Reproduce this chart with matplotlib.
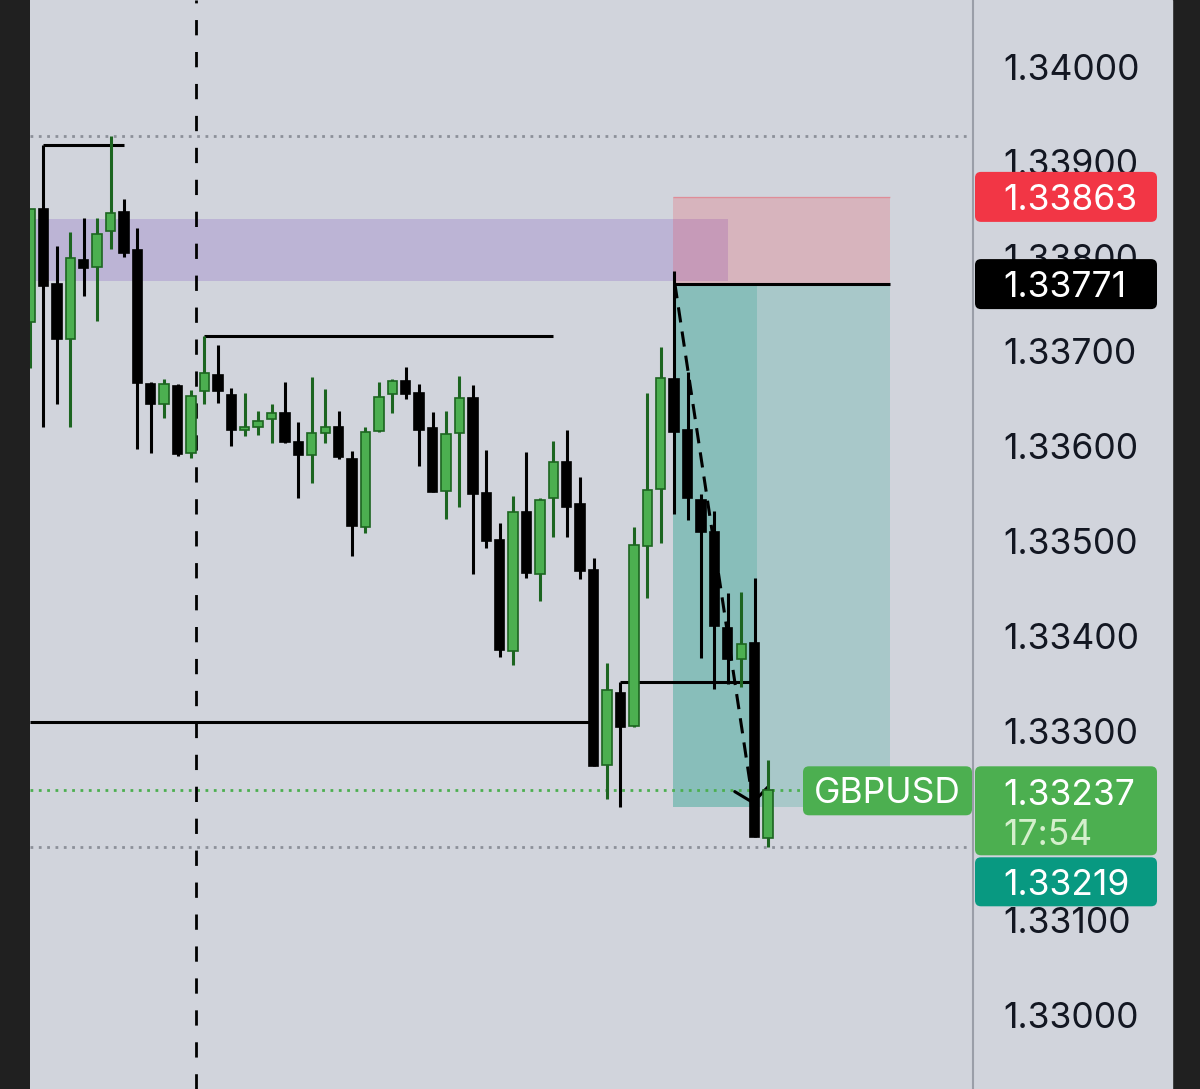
import numpy as np
import matplotlib.pyplot as plt
from matplotlib.patches import Rectangle, FancyBboxPatch

plt.rcParams['font.family'] = ['Inter', 'DejaVu Sans']

# GBPUSD candles, oldest -> newest
opens = [1.33731, 1.33850, 1.33771, 1.33713, 1.33796, 1.33789, 1.33827, 1.33847,
         1.33807, 1.33666, 1.33645, 1.33664, 1.33593, 1.33658, 1.33675, 1.33654,
         1.33617, 1.33620, 1.33629, 1.33635, 1.33604, 1.33591, 1.33614, 1.33620,
         1.33587, 1.33515, 1.33616, 1.33655, 1.33669, 1.33656, 1.33619, 1.33553,
         1.33614, 1.33651, 1.33551, 1.33501, 1.33384, 1.33531, 1.33465, 1.33545,
         1.33583, 1.33539, 1.33469, 1.33264, 1.33340, 1.33305, 1.33495, 1.33555,
         1.33671, 1.33617, 1.33543, 1.33510, 1.33408, 1.33375, 1.33392, 1.33187]
highs = [1.33850, 1.33918, 1.33811, 1.33826, 1.33841, 1.33841, 1.33927, 1.33861,
         1.33830, 1.33668, 1.33671, 1.33666, 1.33659, 1.33716, 1.33707, 1.33661,
         1.33656, 1.33637, 1.33644, 1.33668, 1.33625, 1.33673, 1.33660, 1.33637,
         1.33595, 1.33620, 1.33668, 1.33671, 1.33684, 1.33666, 1.33636, 1.33637,
         1.33674, 1.33665, 1.33596, 1.33519, 1.33547, 1.33594, 1.33545, 1.33605,
         1.33617, 1.33568, 1.33482, 1.33371, 1.33351, 1.33515, 1.33656, 1.33705,
         1.33785, 1.33678, 1.33550, 1.33532, 1.33445, 1.33446, 1.33461, 1.33269]
lows = [1.33683, 1.33620, 1.33645, 1.33620, 1.33758, 1.33732, 1.33808, 1.33800,
        1.33597, 1.33593, 1.33630, 1.33590, 1.33588, 1.33644, 1.33646, 1.33600,
        1.33611, 1.33612, 1.33603, 1.33603, 1.33545, 1.33561, 1.33603, 1.33587,
        1.33484, 1.33508, 1.33615, 1.33635, 1.33650, 1.33579, 1.33552, 1.33523,
        1.33536, 1.33465, 1.33493, 1.33378, 1.33369, 1.33461, 1.33437, 1.33504,
        1.33504, 1.33460, 1.33263, 1.33228, 1.33219, 1.33304, 1.33440, 1.33498,
        1.33528, 1.33522, 1.33377, 1.33344, 1.33349, 1.33346, 1.33188, 1.33177]
closes = [1.33850, 1.33769, 1.33713, 1.33799, 1.33788, 1.33824, 1.33846, 1.33804,
          1.33667, 1.33645, 1.33666, 1.33592, 1.33653, 1.33677, 1.33658, 1.33617,
          1.33620, 1.33627, 1.33635, 1.33604, 1.33591, 1.33614, 1.33620, 1.33589,
          1.33516, 1.33615, 1.33652, 1.33669, 1.33655, 1.33617, 1.33552, 1.33613,
          1.33651, 1.33550, 1.33500, 1.33385, 1.33531, 1.33466, 1.33543, 1.33583,
          1.33536, 1.33468, 1.33263, 1.33343, 1.33304, 1.33496, 1.33554, 1.33672,
          1.33615, 1.33545, 1.33510, 1.33410, 1.33375, 1.33391, 1.33188, 1.33237]

y_ticks = [1.33000, 1.33100, 1.33200, 1.33300, 1.33400, 1.33500,
           1.33600, 1.33700, 1.33800, 1.33900, 1.34000]

symbol = 'GBPUSD'
countdown = '17:54'
last_price = 1.33237
entry = 1.33771
stop = 1.33863
target = 1.33219

# drawings
zone_top, zone_bottom, zone_end = 1.33840, 1.33774, 52
level_prices = [1.33918, 1.33716, 1.33309, 1.33351]
level_start = [1, 13, 0, 44]
level_end = [7, 39, 42, 54]
marker_idx = 12.4
pos_start, pos_now, pos_end = 47.9, 54.2, 64.1
proj_idx = [48.05, 53.9]
proj_price = [1.33772, 1.33222]

BG = '#d1d4dc'
GREEN = '#4caf50'
GREEN_DARK = '#1c6520'
RED = '#f23645'
TEAL = '#089981'

W, H = 1200, 1089
ylim = (1.329219, 1.340707)
PX = (ylim[1] - ylim[0]) / H

fig = plt.figure(figsize=(W / 100, H / 100), dpi=100, facecolor='#202020')
ax = fig.add_axes([30 / W, 0, 942 / W, 1])
ax.set_facecolor(BG)
ax.set_xlim(0, 70.2)
ax.set_ylim(ylim)
ax.set_xticks([])
ax.set_yticks([])
for s in ax.spines.values():
    s.set_visible(False)

o = np.array(opens)
h = np.array(highs)
l = np.array(lows)
c = np.array(closes)
x = np.arange(len(o))
up = c >= o

# zones / position tool (behind candles)
ax.add_patch(Rectangle((-1, zone_bottom), zone_end + 1, zone_top - zone_bottom,
                       facecolor=(126 / 255, 87 / 255, 194 / 255), alpha=0.25, lw=0, zorder=1))
ax.add_patch(Rectangle((pos_start, entry), pos_end - pos_start, stop - entry,
                       facecolor=RED, alpha=0.2, lw=0, zorder=1.2))
ax.add_patch(Rectangle((pos_start, target), pos_end - pos_start, entry - target,
                       facecolor=TEAL, alpha=0.2, lw=0, zorder=1.2))
ax.add_patch(Rectangle((pos_start, target), pos_now - pos_start, entry - target,
                       facecolor=TEAL, alpha=0.2, lw=0, zorder=1.3))
ax.hlines(stop, pos_start, pos_end, color=RED, alpha=0.3, lw=1, zorder=1.4)
ax.hlines(entry, pos_start, pos_end, color='black', lw=2.2, zorder=2)

ax.axhline(h.max(), color='#8c9099', lw=2, ls=(0, (1, 2)), zorder=1.5)
ax.axhline(l.min(), color='#8c9099', lw=2, ls=(0, (1, 2)), zorder=1.5)
ax.axhline(last_price, color=GREEN, lw=2, ls=(0, (1, 2)), zorder=1.5)
ax.axvline(marker_idx, color='black', lw=2, ls=(0, (5.5, 6)), zorder=1.6)
ax.hlines(level_prices, level_start, level_end, color='black', lw=2.2, zorder=2)

ax.plot(proj_idx, proj_price, color='black', lw=2.2, ls=(0, (5, 3)), zorder=2.5)
ax.annotate('', xy=(proj_idx[-1], proj_price[-1]),
            xytext=(proj_idx[-1] - 0.02, proj_price[-1] + 2 * PX),
            arrowprops=dict(arrowstyle='->,head_length=0.8,head_width=1.0',
                            color='black', lw=2.2, mutation_scale=12), zorder=2.5)

# candles
for mask, face, edge in [(up, GREEN, GREEN_DARK), (~up, 'black', 'black')]:
    ax.vlines(x[mask], l[mask], h[mask], color=edge, lw=2.2, zorder=3)
    ax.bar(x[mask], np.abs(c - o)[mask], bottom=np.minimum(o, c)[mask], width=0.7,
           color=face, edgecolor=edge, lw=1.2, zorder=4)

# overlay in pixel x / price y for the price scale and tags
axo = fig.add_axes([0, 0, 1, 1])
axo.set_xlim(0, W)
axo.set_ylim(ylim)
axo.axis('off')
axo.add_patch(Rectangle((972, ylim[0]), 200, ylim[1] - ylim[0], color=BG, zorder=0))
axo.axvline(973, color='#9a9ea8', lw=1.5, zorder=1)

FS = 25.5
for v in y_ticks:
    axo.text(1003, v, f'{v:.5f}', fontsize=FS, color='#131722',
             ha='left', va='center_baseline', zorder=2)


def tag(x0, x1, top, bottom, color):
    axo.add_patch(FancyBboxPatch((x0, bottom), x1 - x0, top - bottom,
                                 boxstyle='round,pad=0,rounding_size=6',
                                 mutation_aspect=PX, fc=color, ec='none', zorder=5))


tag(975, 1157, stop + 25 * PX, stop - 25 * PX, RED)
axo.text(1003, stop, f'{stop:.5f}', fontsize=FS, color='white', va='center_baseline', zorder=6)

tag(975, 1157, entry + 25 * PX, entry - 25 * PX, 'black')
axo.text(1003, entry, f'{entry:.5f}', fontsize=FS, color='white', va='center_baseline', zorder=6)

tag(975, 1157, last_price + 24 * PX, last_price - 65 * PX, GREEN)
axo.text(1003, last_price - 2 * PX, f'{last_price:.5f}', fontsize=FS, color='white',
         va='center_baseline', zorder=6)
axo.text(1003, last_price - 42 * PX, countdown, fontsize=FS, color='#d4efcc',
         va='center_baseline', zorder=6)

tag(975, 1157, last_price - 67 * PX, last_price - 116 * PX, TEAL)
axo.text(1003, last_price - 92 * PX, f'{target:.5f}', fontsize=FS, color='white',
         va='center_baseline', zorder=6)

tag(803, 972, last_price + 24 * PX, last_price - 25 * PX, GREEN)
axo.text(887, last_price, symbol, fontsize=FS, color='white', ha='center',
         va='center_baseline', zorder=6)

fig.savefig('out.png', dpi=100, facecolor=fig.get_facecolor())
